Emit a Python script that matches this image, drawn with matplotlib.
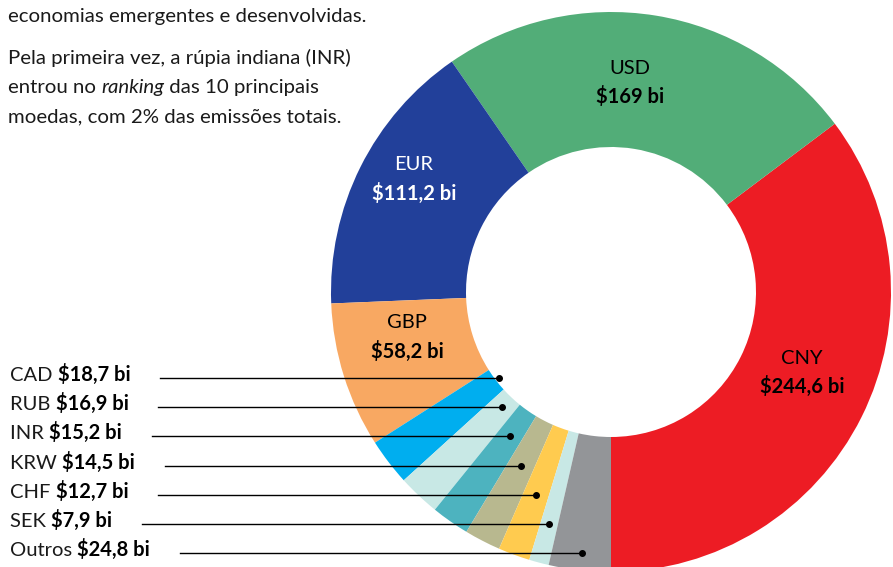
import numpy as np
import matplotlib
matplotlib.use('Agg')
import matplotlib.pyplot as plt

plt.rcParams['font.family'] = ['Lato', 'DejaVu Sans']

# dados (US$ bilhões)
moedas = ['CNY', 'USD', 'EUR', 'GBP', 'CAD', 'RUB', 'INR', 'KRW', 'CHF', 'SEK', 'Outros']
valores = [244.6, 169.0, 111.2, 58.2, 18.7, 16.9, 15.2, 14.5, 12.7, 7.9, 24.8]
rotulos = ['$244,6 bi', '$169 bi', '$111,2 bi', '$58,2 bi', '$18,7 bi', '$16,9 bi',
           '$15,2 bi', '$14,5 bi', '$12,7 bi', '$7,9 bi', '$24,8 bi']
cores = ['#ED1C24', '#52AD78', '#22409A', '#F8A862', '#00AEEF', '#C8E8E5',
         '#4DB3BF', '#B8B88F', '#FFCB4F', '#C8E8E5', '#939598']

W, H = 893, 567
fig = plt.figure(figsize=(W / 100, H / 100), dpi=100)
ax = fig.add_axes([0, 0, 1, 1])

cx, cy, R = 611, H - 292, 280
wedges, _ = ax.pie(valores, colors=cores, startangle=270, counterclock=True,
                   radius=R, center=(cx, cy),
                   wedgeprops=dict(width=R - 145, linewidth=0))
ax.set_xlim(0, W)
ax.set_ylim(0, H)
ax.set_aspect('equal')
ax.axis('off')

# rótulos dentro da rosca
dentro = {'CNY': (802, 358, 'black'), 'USD': (630, 68, 'black'),
          'EUR': (414, 165, 'white'), 'GBP': (407, 323, 'black')}
for nome, rot in zip(moedas, rotulos):
    if nome in dentro:
        x, y, c = dentro[nome]
        ax.text(x, H - y, nome, ha='center', va='center', fontsize=14.5,
                fontweight='normal', color=c)
        ax.text(x, H - y - 28, rot, ha='center', va='center', fontsize=14.5,
                fontweight='bold', color=c)

# rótulos das fatias pequenas, à esquerda
fig.canvas.draw()
rend = fig.canvas.get_renderer()
y_lab = 381
for w, nome, rot in zip(wedges, moedas, rotulos):
    if nome in dentro:
        continue
    t1 = ax.text(10, H - y_lab, nome + ' ', ha='left', va='baseline', fontsize=14.5,
                 color='#1a1a1a')
    bb = t1.get_window_extent(rend)
    t2 = ax.text(bb.x1, H - y_lab, rot, ha='left', va='baseline', fontsize=14.5,
                 fontweight='bold', color='black')
    bb2 = t2.get_window_extent(rend)
    # ponto na bissetriz da fatia, na altura da linha
    ang = np.deg2rad((w.theta1 + w.theta2) / 2)
    ly = H - y_lab + 3
    px = cx + (ly - cy) / np.tan(ang)
    ax.plot([bb2.x1 + 30, px], [ly, ly], color='black', lw=1.0)
    ax.plot(px, ly, 'o', color='black', markersize=4)
    y_lab += 29.2

# texto de apoio
ax.text(8, H - 22, 'economias emergentes e desenvolvidas.', ha='left', va='baseline',
        fontsize=14.7, color='#1a1a1a')
linhas = [
    [('Pela primeira vez, a rúpia indiana (INR)', 'normal')],
    [('entrou no ', 'normal'), ('ranking', 'italic'), (' das 10 principais', 'normal')],
    [('moedas, com 2% das emissões totais.', 'normal')],
]
yb = 64
for partes in linhas:
    x = 8
    for txt, estilo in partes:
        t = ax.text(x, H - yb, txt, ha='left', va='baseline', fontsize=14.7,
                    style=estilo, color='#1a1a1a')
        x = t.get_window_extent(rend).x1
    yb += 29

fig.savefig('out.png', dpi=100)
